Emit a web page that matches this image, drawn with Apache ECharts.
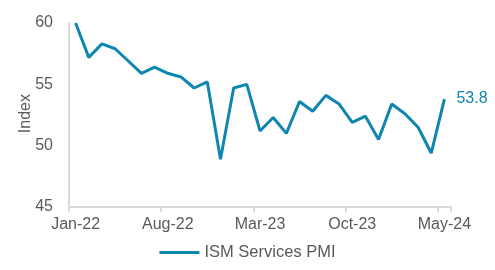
<!DOCTYPE html>
<html><head><meta charset="utf-8">
<script src="https://cdn.jsdelivr.net/npm/echarts@6/dist/echarts.min.js"></script>
<style>html,body{margin:0;padding:0;background:#fff}#c{width:495px;height:270px}</style>
</head><body><div id="c"></div>
<script>
var categories = ["Jan-22","Feb-22","Mar-22","Apr-22","May-22","Jun-22","Jul-22","Aug-22","Sep-22","Oct-22","Nov-22","Dec-22",
"Jan-23","Feb-23","Mar-23","Apr-23","May-23","Jun-23","Jul-23","Aug-23","Sep-23","Oct-23","Nov-23","Dec-23",
"Jan-24","Feb-24","Mar-24","Apr-24","May-24"];
var pmi = [60.0,57.2,58.3,57.9,56.9,55.9,56.4,55.9,55.6,54.7,55.2,48.9,
54.7,55.0,51.2,52.3,51.0,53.6,52.8,54.1,53.4,51.9,52.4,50.5,
53.4,52.6,51.5,49.4,53.8];
var yTicks = {min:45, max:60, interval:5};
var seriesName = "ISM Services PMI";
var yTitle = "Index";
var color = "#0f86b0";
var font = "Liberation Sans, Arial, sans-serif";
var chart = echarts.init(document.getElementById('c'));
chart.setOption({
  animation:false,
  grid:{left:69, right:44, top:23, bottom:63},
  graphic:[{type:'text', left:18, top:94, rotation:Math.PI/2,
    style:{text:yTitle, fill:'#595959', font:'16px ' + font}}],
  legend:{bottom:4, left:'center', itemWidth:40, itemHeight:3, itemGap:8,
    icon:'rect',
    textStyle:{color:'#595959', fontSize:16.5, fontFamily:font},
    data:[{name:seriesName, icon:'rect'}]},
  xAxis:{type:'category', data:categories, boundaryGap:true,
    axisLine:{lineStyle:{color:'#d9d9d9', width:2}},
    axisTick:{show:true, interval:6, length:5, lineStyle:{color:'#d9d9d9', width:2}},
    axisLabel:{interval:6, color:'#595959', fontSize:16, fontFamily:font, margin:10}},
  yAxis:{type:'value', min:yTicks.min, max:yTicks.max, interval:yTicks.interval,
    axisLine:{show:true, lineStyle:{color:'#d9d9d9', width:2}},
    axisTick:{show:false}, splitLine:{show:false},
    axisLabel:{color:'#595959', fontSize:16, fontFamily:font, margin:16}},
  series:[{name:seriesName, type:'line', data:pmi, showSymbol:false, symbol:'none',
    lineStyle:{color:color, width:3}, itemStyle:{color:color},
    endLabel:{show:true, formatter:function(p){return p.value.toFixed(1);}, color:color, fontSize:16, fontFamily:font, distance:12}}]
});
</script></body></html>
